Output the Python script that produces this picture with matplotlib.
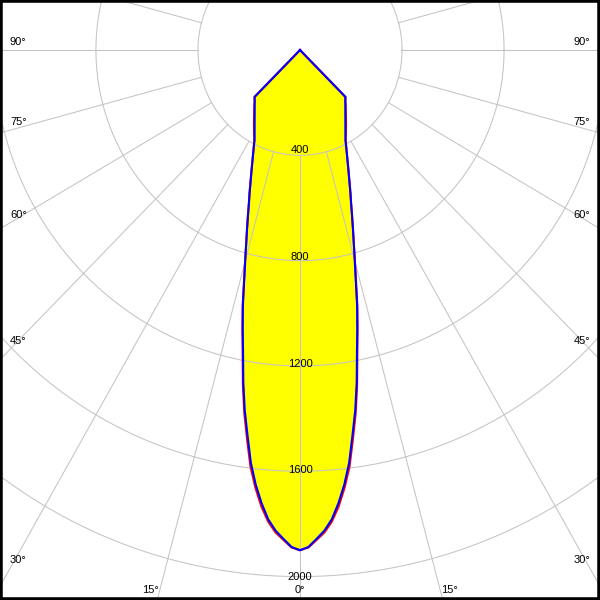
import matplotlib
matplotlib.use('Agg')
import matplotlib.pyplot as plt
from matplotlib.patches import Rectangle
import numpy as np

# gamma angles (deg) and luminous intensity (cd) for the two C-planes
gamma = [0, 1, 2, 3, 4, 5, 6, 7, 8, 9, 10, 11, 12, 13, 14, 15, 16, 17, 18,
         19, 20, 22.5, 25, 27.5, 30, 32.5, 35, 37.5, 40, 42.5, 45, 47.5,
         90, 135, 180]
c0_c180 = [1900, 1890, 1862, 1835, 1795, 1740, 1672, 1594, 1492, 1396, 1290,
           1178, 1086, 1000, 908, 832, 766, 710, 660, 615, 578, 497, 435,
           388, 360, 336, 314, 295, 278, 263, 252, 0, 0, 0, 0]
c90_c270 = [1900, 1888, 1858, 1828, 1787, 1728, 1660, 1580, 1478, 1385, 1280,
            1170, 1080, 995, 905, 830, 765, 710, 660, 615, 578, 497, 435,
            386, 356, 331, 310, 292, 277, 263, 252, 0, 0, 0, 0]

rings = [400, 800, 1200, 1600, 2000]
spoke_angles = list(range(0, 360, 15))
side_labels = [30, 45, 60, 75, 90]
bottom_labels = [-15, 0, 15]

XMAX = 1176
YMIN, YMAX = -2089, 190


def to_xy(angles, values):
    # mirror the half-plane so both sides are drawn
    g = np.radians(np.array(angles, dtype=float))
    r = np.array(values, dtype=float)
    th = np.concatenate([-g[::-1], g[1:]])
    rr = np.concatenate([r[::-1], r[1:]])
    return rr * np.sin(th), -rr * np.cos(th)


fig = plt.figure(figsize=(6, 6), dpi=100)
ax = fig.add_axes([0, 0, 1, 1])
ax.set_xlim(-XMAX, XMAX)
ax.set_ylim(YMIN, YMAX)
ax.axis('off')

bx, by = to_xy(gamma, c90_c270)
rx, ry = to_xy(gamma, c0_c180)
ax.fill(bx, by, color='#ffff00', zorder=1, lw=0)
ax.fill(rx, ry, color='#ffff00', zorder=1, lw=0)

# grid
t = np.linspace(0, 2 * np.pi, 721)
grid_kw = dict(color='#c4c4c4', lw=0.75, zorder=2)
for r in rings:
    ax.plot(r * np.cos(t), r * np.sin(t), **grid_kw)
for a in spoke_angles:
    ar = np.radians(a)
    ax.plot([400 * np.sin(ar), 4000 * np.sin(ar)],
            [-400 * np.cos(ar), -4000 * np.cos(ar)], **grid_kw)

ax.plot(rx, ry, color='red', lw=1.5, zorder=3)
ax.plot(bx, by, color='blue', lw=1.5, zorder=4)

font = dict(family='Liberation Sans', fontsize=8, color='black', zorder=5)

for r in rings:
    ax.text(0, -(1.0138 * r - 14.3), str(r), ha='center', va='baseline', **font)

x0 = 1137
for a in side_labels:
    ar = np.radians(a)
    y = -x0 * np.cos(ar) / np.sin(ar) + 19
    ax.text(-x0, y, f"{a}°", ha='left', va='baseline', **font)
    ax.text(x0, y, f"{a}°", ha='right', va='baseline', **font)

yb = -2062
for a in bottom_labels:
    x = -yb * np.tan(np.radians(a))
    ha = 'center' if a == 0 else ('right' if a < 0 else 'left')
    ax.text(x, yb, f"{abs(a)}°", ha=ha, va='baseline', **font)

fig.patches.append(Rectangle((0, 0), 1, 1, transform=fig.transFigure,
                             fill=False, edgecolor='black', linewidth=4))

fig.savefig('out.png', dpi=100, facecolor='white')
plt.close(fig)
